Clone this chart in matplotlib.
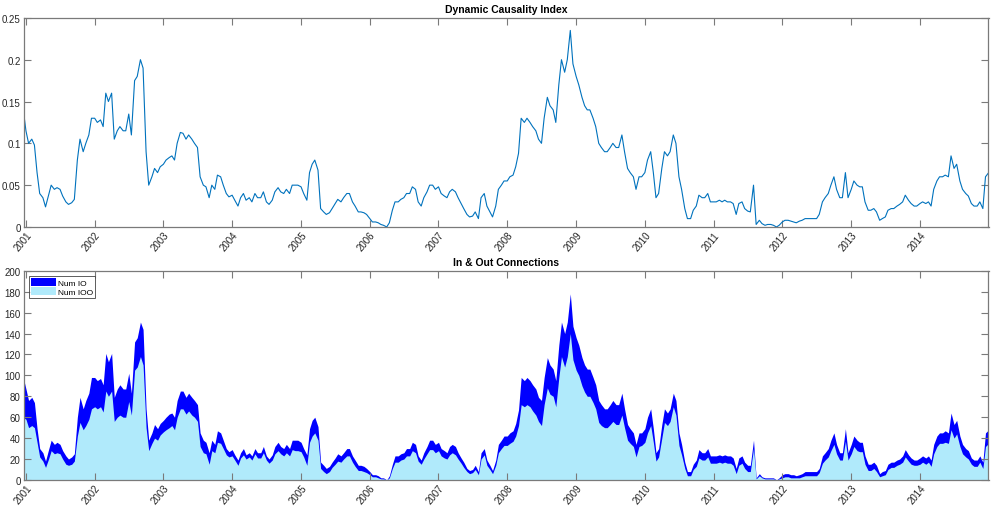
import numpy as np
import pandas as pd
import matplotlib
matplotlib.use("Agg")
import matplotlib.pyplot as plt
import matplotlib.dates as mdates

plt.rcParams["font.family"] = ["Liberation Sans", "DejaVu Sans"]

# ----------------------------
# Data (semi-monthly readings, 2000-12-15 .. 2015-01-01)
# ----------------------------

dates = pd.date_range("2000-12-15", "2015-01-01", freq="SMS")

dci_start = [0.145]
dci_2001 = [0.115, 0.100, 0.105, 0.098, 0.065, 0.040, 0.035, 0.024, 0.038, 0.050, 0.045, 0.047,
            0.045, 0.037, 0.030, 0.027, 0.029, 0.033, 0.080, 0.105, 0.090, 0.100, 0.110, 0.130]
dci_2002 = [0.130, 0.125, 0.128, 0.120, 0.160, 0.150, 0.160, 0.105, 0.115, 0.120, 0.115, 0.115,
            0.135, 0.110, 0.175, 0.180, 0.200, 0.190, 0.090, 0.050, 0.060, 0.070, 0.065, 0.072]
dci_2003 = [0.075, 0.080, 0.083, 0.085, 0.080, 0.100, 0.113, 0.112, 0.105, 0.110, 0.105, 0.100,
            0.095, 0.060, 0.050, 0.048, 0.035, 0.050, 0.045, 0.062, 0.060, 0.050, 0.040, 0.036]
dci_2004 = [0.038, 0.032, 0.025, 0.035, 0.040, 0.032, 0.035, 0.030, 0.040, 0.035, 0.035, 0.042,
            0.030, 0.027, 0.032, 0.042, 0.047, 0.042, 0.040, 0.045, 0.040, 0.050, 0.050, 0.050]
dci_2005 = [0.048, 0.040, 0.032, 0.065, 0.075, 0.080, 0.068, 0.022, 0.018, 0.015, 0.017, 0.022,
            0.028, 0.033, 0.030, 0.035, 0.040, 0.040, 0.030, 0.025, 0.018, 0.018, 0.017, 0.015]
dci_2006 = [0.010, 0.006, 0.006, 0.005, 0.003, 0.002, 0.000, 0.005, 0.020, 0.030, 0.030, 0.033,
            0.035, 0.040, 0.040, 0.048, 0.045, 0.030, 0.025, 0.035, 0.042, 0.050, 0.050, 0.045]
dci_2007 = [0.048, 0.040, 0.037, 0.035, 0.042, 0.045, 0.042, 0.035, 0.028, 0.022, 0.015, 0.012,
            0.013, 0.018, 0.010, 0.035, 0.040, 0.025, 0.018, 0.012, 0.025, 0.045, 0.050, 0.055]
dci_2008 = [0.055, 0.060, 0.062, 0.072, 0.088, 0.130, 0.125, 0.130, 0.125, 0.120, 0.115, 0.105,
            0.100, 0.130, 0.155, 0.145, 0.140, 0.125, 0.170, 0.200, 0.185, 0.200, 0.235, 0.195]
dci_2009 = [0.180, 0.170, 0.155, 0.145, 0.140, 0.140, 0.130, 0.120, 0.100, 0.095, 0.090, 0.090,
            0.095, 0.100, 0.095, 0.095, 0.110, 0.090, 0.070, 0.065, 0.060, 0.045, 0.060, 0.060]
dci_2010 = [0.065, 0.080, 0.090, 0.065, 0.035, 0.040, 0.070, 0.090, 0.085, 0.090, 0.110, 0.100,
            0.060, 0.045, 0.022, 0.010, 0.010, 0.020, 0.025, 0.038, 0.035, 0.035, 0.040, 0.030]
dci_2011 = [0.030, 0.030, 0.032, 0.030, 0.032, 0.030, 0.030, 0.028, 0.015, 0.028, 0.030, 0.022,
            0.019, 0.018, 0.050, 0.003, 0.008, 0.004, 0.002, 0.003, 0.003, 0.002, 0.000, 0.002]
dci_2012 = [0.006, 0.008, 0.008, 0.007, 0.006, 0.005, 0.007, 0.008, 0.010, 0.010, 0.010, 0.010,
            0.010, 0.015, 0.030, 0.035, 0.040, 0.050, 0.060, 0.045, 0.035, 0.035, 0.065, 0.035]
dci_2013 = [0.045, 0.055, 0.050, 0.048, 0.048, 0.030, 0.020, 0.020, 0.022, 0.018, 0.008, 0.010,
            0.012, 0.020, 0.022, 0.022, 0.025, 0.027, 0.030, 0.038, 0.032, 0.028, 0.025, 0.025]
dci_2014 = [0.028, 0.030, 0.028, 0.030, 0.025, 0.045, 0.055, 0.060, 0.060, 0.062, 0.060, 0.085,
            0.070, 0.075, 0.055, 0.045, 0.040, 0.037, 0.028, 0.025, 0.025, 0.030, 0.022, 0.060]
dci_end = [0.065]

io_start = [100]
io_2001 = [87, 76, 79, 74, 49, 30, 26, 18, 29, 38, 34, 36, 34, 28, 23, 20, 22, 25, 60, 79, 68, 76, 83, 98]
io_2002 = [98, 95, 97, 91, 121, 113, 121, 79, 87, 91, 87, 87, 102, 83, 132, 136, 151, 144, 68, 38, 45, 53, 49, 54]
io_2003 = [57, 60, 63, 64, 60, 76, 85, 85, 79, 83, 79, 76, 72, 45, 38, 36, 26, 38, 34, 47, 45, 38, 30, 27]
io_2004 = [29, 24, 19, 26, 30, 24, 26, 23, 30, 26, 26, 32, 23, 20, 24, 32, 36, 32, 30, 34, 30, 38, 38, 38]
io_2005 = [36, 30, 24, 49, 57, 60, 51, 17, 14, 11, 13, 17, 21, 25, 23, 26, 30, 30, 23, 19, 14, 14, 13, 11]
io_2006 = [8, 5, 5, 4, 2, 2, 0, 4, 15, 23, 23, 25, 26, 30, 30, 36, 34, 23, 19, 26, 32, 38, 38, 34]
io_2007 = [36, 30, 28, 26, 32, 34, 32, 26, 21, 17, 11, 9, 10, 14, 8, 26, 30, 19, 14, 9, 19, 34, 38, 42]
io_2008 = [42, 45, 47, 54, 67, 98, 95, 98, 95, 91, 87, 79, 76, 98, 117, 110, 106, 95, 129, 151, 140, 151, 178, 147]
io_2009 = [136, 129, 117, 110, 106, 106, 98, 91, 76, 72, 68, 68, 72, 76, 72, 72, 83, 68, 53, 49, 45, 34, 45, 45]
io_2010 = [49, 60, 68, 49, 26, 30, 53, 68, 64, 68, 83, 76, 45, 34, 17, 8, 8, 15, 19, 29, 26, 26, 30, 23]
io_2011 = [23, 23, 24, 23, 24, 23, 23, 21, 11, 21, 23, 17, 14, 14, 38, 2, 6, 3, 2, 2, 2, 2, 0, 2]
io_2012 = [5, 6, 6, 5, 5, 4, 5, 6, 8, 8, 8, 8, 8, 11, 23, 26, 30, 38, 45, 34, 26, 26, 49, 26]
io_2013 = [34, 42, 38, 36, 36, 23, 15, 15, 17, 14, 6, 8, 9, 15, 17, 17, 19, 20, 23, 29, 24, 21, 19, 19]
io_2014 = [21, 23, 21, 23, 19, 34, 42, 45, 45, 47, 45, 64, 53, 57, 42, 34, 30, 28, 21, 19, 19, 23, 17, 45]
io_end = [48]

ioo_start = [60]
ioo_2001 = [58, 50, 52, 50, 36, 22, 18, 12, 20, 28, 25, 26, 25, 20, 15, 14, 15, 18, 42, 55, 48, 52, 58, 68]
ioo_2002 = [70, 68, 70, 65, 85, 80, 85, 56, 60, 62, 60, 60, 75, 62, 105, 108, 118, 110, 50, 28, 35, 40, 38, 43]
ioo_2003 = [46, 48, 50, 52, 48, 60, 68, 68, 63, 66, 62, 60, 56, 32, 26, 25, 15, 28, 26, 36, 35, 30, 24, 22]
ioo_2004 = [23, 19, 14, 21, 24, 20, 22, 19, 25, 21, 21, 26, 19, 16, 19, 25, 28, 25, 23, 26, 23, 29, 28, 28]
ioo_2005 = [27, 22, 14, 36, 42, 45, 38, 11, 8, 6, 8, 12, 15, 18, 17, 20, 23, 23, 17, 13, 9, 9, 8, 7]
ioo_2006 = [5, 3, 3, 2, 1, 1, 0, 2, 11, 17, 17, 19, 20, 23, 23, 28, 26, 18, 15, 20, 25, 29, 29, 26]
ioo_2007 = [28, 23, 21, 20, 24, 26, 24, 20, 16, 12, 8, 6, 7, 10, 5, 20, 24, 14, 10, 6, 14, 26, 30, 33]
ioo_2008 = [33, 35, 37, 42, 52, 72, 70, 72, 70, 66, 62, 56, 52, 72, 88, 82, 80, 70, 98, 118, 108, 118, 140, 115]
ioo_2009 = [105, 100, 90, 84, 80, 80, 74, 68, 55, 52, 50, 50, 53, 56, 53, 53, 62, 50, 38, 35, 32, 22, 32, 33]
ioo_2010 = [36, 45, 52, 36, 18, 22, 40, 55, 52, 56, 70, 62, 33, 24, 11, 4, 4, 10, 13, 21, 19, 19, 22, 16]
ioo_2011 = [16, 16, 17, 16, 17, 16, 16, 14, 6, 14, 16, 11, 8, 8, 30, 1, 4, 2, 1, 1, 1, 1, 0, 1]
ioo_2012 = [2, 3, 3, 2, 2, 2, 2, 3, 4, 4, 4, 4, 4, 7, 16, 19, 22, 28, 34, 25, 19, 19, 37, 19]
ioo_2013 = [25, 32, 28, 27, 27, 15, 9, 9, 11, 8, 3, 4, 5, 10, 12, 12, 14, 15, 17, 22, 18, 15, 14, 14]
ioo_2014 = [15, 17, 15, 17, 13, 25, 32, 35, 35, 36, 35, 48, 40, 44, 32, 25, 22, 20, 15, 13, 13, 17, 11, 32]
ioo_end = [35]

dci = np.concatenate([dci_start, dci_2001, dci_2002, dci_2003, dci_2004, dci_2005, dci_2006,
                      dci_2007, dci_2008, dci_2009, dci_2010, dci_2011, dci_2012, dci_2013,
                      dci_2014, dci_end])
num_io = np.concatenate([io_start, io_2001, io_2002, io_2003, io_2004, io_2005, io_2006,
                         io_2007, io_2008, io_2009, io_2010, io_2011, io_2012, io_2013,
                         io_2014, io_end])
num_ioo = np.concatenate([ioo_start, ioo_2001, ioo_2002, ioo_2003, ioo_2004, ioo_2005, ioo_2006,
                          ioo_2007, ioo_2008, ioo_2009, ioo_2010, ioo_2011, ioo_2012, ioo_2013,
                          ioo_2014, ioo_end])

year_ticks = pd.date_range("2001-01-01", "2014-01-01", freq="YS")
x_lo, x_hi = pd.Timestamp("2000-12-19"), pd.Timestamp("2014-12-31")


# ----------------------------
# Figure
# ----------------------------

fig = plt.figure(figsize=(10, 5.1), dpi=100)
ax1 = fig.add_axes([0.0235, 0.553, 0.965, 0.410])
ax2 = fig.add_axes([0.0235, 0.057, 0.965, 0.410])

axis_grey = "#7a7a7a"
label_grey = "#262626"


def style_axes(ax):
    ax.set_xlim(x_lo, x_hi)
    ax.set_xticks(year_ticks)
    ax.xaxis.set_major_formatter(mdates.DateFormatter("%Y"))
    ax.tick_params(direction="in", length=5, width=0.8, color=axis_grey,
                   labelsize=7, labelcolor=label_grey,
                   top=True, right=True, pad=2)
    for lbl in ax.get_xticklabels():
        lbl.set_rotation(50)
        lbl.set_ha("right")
        lbl.set_va("top")
        lbl.set_rotation_mode("anchor")
    for sp in ax.spines.values():
        sp.set_color(axis_grey)
        sp.set_linewidth(0.9)


# Top: Dynamic Causality Index
ax1.plot(dates, dci, color="#0072BD", lw=0.8)
ax1.set_ylim(0, 0.25)
ax1.set_yticks([0, 0.05, 0.1, 0.15, 0.2, 0.25])
ax1.set_yticklabels(["0", "0.05", "0.1", "0.15", "0.2", "0.25"])
style_axes(ax1)
ax1.set_title("Dynamic Causality Index", fontsize=7.5, fontweight="bold", pad=4)

# Bottom: In & Out connections
ax2.fill_between(dates, num_io, color="#0000FF", lw=0, label="Num IO")
ax2.fill_between(dates, num_ioo, color="#B0EAFB", lw=0, label="Num IOO")
ax2.set_ylim(0, 200)
ax2.set_yticks(np.arange(0, 201, 20))
style_axes(ax2)
ax2.set_title("In & Out Connections", fontsize=7.5, fontweight="bold", pad=4)

leg = ax2.legend(loc="upper left", fontsize=6, frameon=True, fancybox=False,
                 handlelength=3.0, handleheight=1.1, borderpad=0.25, labelspacing=0.05,
                 handletextpad=0.3, borderaxespad=0.6)
leg.get_frame().set_edgecolor("#333333")
leg.get_frame().set_linewidth(0.7)

fig.savefig("out.png", dpi=100)
